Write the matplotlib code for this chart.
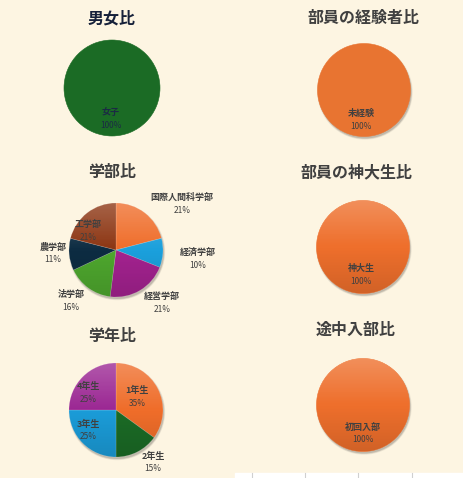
import numpy as np
import matplotlib
matplotlib.use('Agg')
import matplotlib.pyplot as plt
from matplotlib.patches import Circle, Rectangle

plt.rcParams['font.family'] = ['Noto Sans CJK JP', 'DejaVu Sans']

# ---- data ----
gender_labels = ['女子']
gender_values = [100]

exp_labels = ['未経験']
exp_values = [100]

faculty_labels = ['国際人間科学部', '経済学部', '経営学部', '法学部', '農学部', '工学部']
faculty_values = [21, 10, 21, 16, 11, 21]

kobe_labels = ['神大生']
kobe_values = [100]

grade_labels = ['1年生', '2年生', '3年生', '4年生']
grade_values = [35, 15, 25, 25]

join_labels = ['初回入部']
join_values = [100]

W, H = 464, 478
bg = '#fdf5e2'

fig = plt.figure(figsize=(W / 100, H / 100), dpi=100, facecolor=bg)
ax = fig.add_axes([0, 0, 1, 1])
ax.set_facecolor(bg)


def Y(y):
    return H - y


def draw_pie(title, tx, ty, cx, cy, r, values, labels, cols, label_pos,
             title_color='#404040', text_color='#404040', gradient=True, shadow=True):
    ax.text(tx, Y(ty), title, ha='center', va='center', fontsize=11.5,
            fontweight='bold', color=title_color)
    if shadow:
        for k, a in [(1.2, 0.06), (0.6, 0.08), (0.0, 0.12)]:
            ax.add_patch(Circle((cx + 1.0, Y(cy) - 2.0), r + k, color='#000000',
                                alpha=a, lw=0, zorder=1))
    wedges, _ = ax.pie(values, colors=cols, startangle=90, counterclock=False,
                       center=(cx, Y(cy)), radius=r, frame=True,
                       wedgeprops=dict(lw=0.4, edgecolor=cols[0] if len(values) == 1 else '#ffffff40',
                                       zorder=2))
    if gradient:
        n = 100
        g = np.linspace(0, 1, n)
        rgba = np.zeros((n, 1, 4))
        top = np.clip(0.5 - g, 0, None) * 0.45
        bot = np.clip((g - 0.5) * 2, 0, None) * 0.12
        rgba[:, 0, :3] = np.where(g[:, None] < 0.5, 1.0, 0.0)
        rgba[:, 0, 3] = top + bot
        im = ax.imshow(rgba, extent=(cx - r, cx + r, Y(cy) - r, Y(cy) + r),
                       origin='upper', aspect='auto', zorder=3, interpolation='bilinear')
        im.set_clip_path(Circle((cx, Y(cy)), r, transform=ax.transData))
    tot = sum(values)
    for lab, v, (lx, ly) in zip(labels, values, label_pos):
        ax.text(lx, Y(ly), lab, ha='center', va='center', fontsize=6.5,
                fontweight='bold', color=text_color, zorder=5)
        ax.text(lx, Y(ly + 13), f'{round(100 * v / tot)}%', ha='center', va='center',
                fontsize=6, color=text_color, zorder=5)


draw_pie('男女比', 112, 18, 112, 88, 48, gender_values, gender_labels,
         ['#1b6b25'], [(111, 112)], title_color='#16213a', text_color='#1b2a44',
         gradient=False, shadow=False)

draw_pie('部員の経験者比', 364, 18, 364, 90, 46.5, exp_values, exp_labels,
         ['#e87431'], [(361, 113)], gradient=False)

draw_pie('学部比', 112, 172, 116, 250, 47, faculty_values, faculty_labels,
         ['#ef6d2a', '#1ba0dc', '#a3228f', '#4ea72e', '#0d2c42', '#8c3512'],
         [(182, 197), (198, 252), (162, 297), (71, 295), (53, 247), (88, 224)])

draw_pie('部員の神大生比', 357, 172, 363, 247, 46.5, kobe_values, kobe_labels,
         ['#ee6f2c'], [(361, 268)])

draw_pie('学年比', 112, 336, 116, 410, 47, grade_values, grade_labels,
         ['#ef6d2a', '#1b6b26', '#1b9cd8', '#9b2793'],
         [(137, 390), (153, 456), (88, 424), (88, 386)])

draw_pie('途中入部比', 356, 330, 363, 405, 46.5, join_values, join_labels,
         ['#ee6f2c'], [(363, 427)])

# spreadsheet cells peeking out at the bottom right
ax.add_patch(Rectangle((235, 0), W - 235, H - 473, color='white', zorder=6))
for gx in [252, 305, 358, 412]:
    ax.plot([gx, gx], [0, H - 473], color='#d0d0d0', lw=0.8, zorder=7)

ax.set_xlim(0, W)
ax.set_ylim(0, H)
ax.set_aspect('equal')
ax.axis('off')

plt.savefig('out.png', dpi=100, facecolor=bg)
